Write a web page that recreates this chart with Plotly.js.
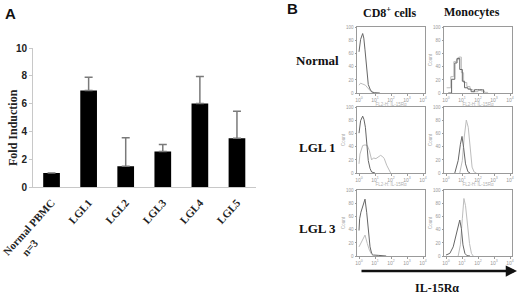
<!DOCTYPE html>
<html>
<head>
<meta charset="utf-8">
<script src="https://cdn.plot.ly/plotly-3.0.1.min.js"></script>
<style>html,body{margin:0;padding:0;background:#fff;}#chart{width:520px;height:296px;}</style>
</head>
<body>
<div id="chart"></div>
<script>
// ---- Panel A data ----
const categories = ['Normal PBMC', 'LGL1', 'LGL2', 'LGL3', 'LGL4', 'LGL5'];
const categorySubtitles = ['n=3', '', '', '', '', ''];
const foldInduction = [1.0, 6.95, 1.5, 2.55, 6.0, 3.5];
const errorPlus = [0, 0.95, 2.05, 0.5, 1.95, 1.95];
const yTicks = [0, 2, 4, 6, 8, 10];

// ---- Panel B data (x in decades: 0 = 10^0 ... 4 = 10^4; y = Count) ----
const decadeTicks = [0, 1, 2, 3, 4];
const decadeLabels = ['10<sup>0</sup>', '10<sup>1</sup>', '10<sup>2</sup>', '10<sup>3</sup>', '10<sup>4</sup>'];
const countTicks = [0, 20, 40, 60, 80, 100];

const normalCD8DarkX = [0, 0.1, 0.23, 0.3, 0.375, 0.48, 0.58, 0.69, 0.79, 0.95, 1.3];
const normalCD8DarkY = [63, 82, 91, 84, 66, 36, 13, 6, 2, 0.5, 0];
const normalCD8LightX = [0, 0.1, 0.2, 0.3, 0.4, 0.5, 0.6, 0.7, 0.8, 0.9];
const normalCD8LightY = [12, 15, 14, 13, 12, 9, 6, 3, 1, 0];

const normalMonoDarkX = [0.14, 0.35, 0.55, 0.69, 0.86, 1.02, 1.16, 1.37, 1.57, 1.7, 1.78, 1.98, 2.08, 2.28, 2.35];
const normalMonoDarkY = [0, 21, 46, 53, 36, 18, 8, 6, 2, 2, 5, 5, 5, 5, 0];
const normalMonoLightX = [0.04, 0.3, 0.49, 0.65, 0.8, 0.96, 1.1, 1.3, 1.5, 1.7, 2.0, 2.2, 2.4, 2.6];
const normalMonoLightY = [8, 25, 48, 51, 55, 31, 16, 10, 5, 2, 4, 3, 1, 0];

const lgl1CD8DarkX = [0, 0.1, 0.23, 0.31, 0.4, 0.48, 0.58, 0.69, 0.79, 1.0];
const lgl1CD8DarkY = [61, 80, 87, 82, 70, 44, 19, 7, 1.5, 0];
const lgl1CD8LightX = [0, 0.06, 0.23, 0.375, 0.52, 0.65, 0.79, 0.9, 1.06, 1.21, 1.35, 1.48, 1.58, 1.73, 1.9, 1.98];
const lgl1CD8LightY = [14, 29, 42, 43, 42, 34, 20, 23, 22, 24, 27, 25, 22, 12, 3, 0];

const lgl1MonoDarkX = [0.55, 0.76, 0.9, 1.0, 1.1, 1.22, 1.37, 1.5];
const lgl1MonoDarkY = [0, 19, 44, 56, 39, 14, 2, 0];
const lgl1MonoLightX = [0.86, 1.02, 1.14, 1.27, 1.39, 1.51, 1.63, 1.76, 1.9];
const lgl1MonoLightY = [0, 19, 55, 81, 70, 34, 9, 1.5, 0];

const lgl3CD8DarkX = [0, 0.04, 0.12, 0.27, 0.375, 0.48, 0.58, 0.69, 0.79, 0.9, 1.2, 1.6, 1.7];
const lgl3CD8DarkY = [39, 57, 67, 80, 87, 67, 37, 14, 4, 1.5, 1, 1, 0];
const lgl3CD8LightX = [0, 0.06, 0.23, 0.375, 0.52, 0.65, 0.79, 0.9];
const lgl3CD8LightY = [14, 17, 24, 32, 19, 9, 2.5, 0];

const lgl3MonoDarkX = [0, 0.24, 0.45, 0.61, 0.76, 0.86, 0.96, 1.06, 1.18, 1.31, 1.5];
const lgl3MonoDarkY = [1.5, 4, 14, 32, 48, 55, 42, 17, 4, 0.5, 0];
const lgl3MonoLightX = [0.76, 0.9, 1.02, 1.12, 1.22, 1.35, 1.47, 1.59, 1.7];
const lgl3MonoLightY = [0, 17, 57, 88, 77, 47, 19, 4, 0];

const rowLabels = ['Normal', 'LGL 1', 'LGL 3'];
const colLabels = ['CD8<sup>+</sup> cells', 'Monocytes'];

const W = 520, H = 296;
const px = v => v / W;
const py = v => 1 - v / H;

const DARK = '#666666', LIGHT = '#bdbdbd';
const serif = 'Liberation Serif, Times New Roman, serif';
const sans = 'Liberation Sans, Arial, sans-serif';
const NB = '\u00a0';

const catText = categories.map((c, i) => categorySubtitles[i]
  ? '<b>' + c + '</b><br><b>' + categorySubtitles[i] + '</b>' + NB.repeat(15)
  : '<b>' + c + '</b>');

const traces = [];
traces.push({
  type: 'bar', x: categories, y: foldInduction, width: 0.45,
  marker: {color: '#000', line: {width: 0}},
  error_y: {type: 'data', symmetric: false, array: errorPlus, arrayminus: errorPlus.map(() => 0),
            color: '#7a7a7a', thickness: 1.5, width: 4},
  xaxis: 'x', yaxis: 'y', hoverinfo: 'none'
});

const panels = [
  [normalCD8DarkX, normalCD8DarkY, normalCD8LightX, normalCD8LightY],
  [normalMonoDarkX, normalMonoDarkY, normalMonoLightX, normalMonoLightY],
  [lgl1CD8DarkX, lgl1CD8DarkY, lgl1CD8LightX, lgl1CD8LightY],
  [lgl1MonoDarkX, lgl1MonoDarkY, lgl1MonoLightX, lgl1MonoLightY],
  [lgl3CD8DarkX, lgl3CD8DarkY, lgl3CD8LightX, lgl3CD8LightY],
  [lgl3MonoDarkX, lgl3MonoDarkY, lgl3MonoLightX, lgl3MonoLightY]
];
panels.forEach((p, i) => {
  const n = i + 2;
  const shape = (i === 1) ? 'hv' : 'linear';
  traces.push({type: 'scatter', mode: 'lines', x: p[2], y: p[3], line: {color: LIGHT, width: 1, shape: shape},
               xaxis: 'x' + n, yaxis: 'y' + n, hoverinfo: 'none'});
  traces.push({type: 'scatter', mode: 'lines', x: p[0], y: p[1], line: {color: DARK, width: 1, shape: shape},
               xaxis: 'x' + n, yaxis: 'y' + n, hoverinfo: 'none'});
});

const layout = {
  width: W, height: H, margin: {l: 0, r: 0, t: 0, b: 0},
  paper_bgcolor: '#fff', plot_bgcolor: '#fff', showlegend: false,
  xaxis: {
    domain: [px(33), px(255.5)], range: [-0.5, 5.5], type: 'category',
    tickvals: categories, ticktext: catText,
    tickangle: -48, tickfont: {family: serif, size: 11, color: '#222'}, ticklabelstandoff: 4,
    showline: true, linecolor: '#c8c8c8', linewidth: 1, showgrid: false, ticks: '', zeroline: false,
    anchor: 'y', fixedrange: true
  },
  yaxis: {
    domain: [py(187), py(48)], range: [0, 10], tickvals: yTicks,
    ticktext: yTicks.map(t => '<b>' + t + '</b>'),
    tickfont: {family: sans, size: 10, color: '#222'},
    showline: true, linecolor: '#c8c8c8', linewidth: 1, showgrid: false, zeroline: false,
    ticks: 'outside', ticklen: 3, tickcolor: '#c8c8c8', anchor: 'x'
  },
  annotations: [],
  shapes: []
};

const colX = [[357, 425], [444, 512]];
const rowY = [[27, 93], [107, 173], [190, 256]];
for (let i = 0; i < 6; i++) {
  const n = i + 2;
  const r = Math.floor(i / 2), c = i % 2;
  layout['xaxis' + n] = {
    domain: [px(colX[c][0]), px(colX[c][1])], range: [-0.125, 4.125],
    tickvals: decadeTicks, ticktext: decadeLabels, tickfont: {family: sans, size: 5, color: '#999'},
    showline: true, mirror: true, linecolor: '#9a9a9a', linewidth: 1, showgrid: false, zeroline: false,
    ticks: 'outside', ticklen: 1.5, tickcolor: '#9a9a9a', anchor: 'y' + n,
    title: r < 2 ? {text: 'FL2-H: IL-15R\u03b1', font: {family: sans, size: 4.5, color: '#b0b0b0'}, standoff: 0} : {text: ''}
  };
  layout['yaxis' + n] = {
    domain: [py(rowY[r][1]), py(rowY[r][0])], range: [0, 101],
    tickvals: countTicks, tickfont: {family: sans, size: 4.5, color: '#999'},
    showline: true, mirror: true, linecolor: '#9a9a9a', linewidth: 1, showgrid: false, zeroline: false,
    ticks: 'outside', ticklen: 1.5, tickcolor: '#9a9a9a', anchor: 'x' + n,
    title: (c === 1 || r > 0) ? {text: 'Count', font: {family: sans, size: 4.5, color: '#aaa'}, standoff: 0} : {text: ''}
  };
}

const ann = layout.annotations;
const A = (x, y, text, font, extra) => Object.assign({xref: 'paper', yref: 'paper', x: px(x), y: py(y), text: text,
  showarrow: false, xanchor: 'center', yanchor: 'middle', font: font}, extra || {});
ann.push(A(13, 128, '<b>Fold Induction</b>', {family: serif, size: 12, color: '#222'}, {textangle: -90}));
ann.push(A(10, 14, '<b>A</b>', {family: sans, size: 15, color: '#111'}));
ann.push(A(292, 9, '<b>B</b>', {family: sans, size: 15, color: '#111'}));
ann.push(A(389, 12, '<b>' + colLabels[0] + '</b>', {family: serif, size: 12, color: '#111'}));
ann.push(A(472, 12, '<b>' + colLabels[1] + '</b>', {family: serif, size: 12, color: '#111'}));
const rowLabelY = [60, 147, 228];
rowLabels.forEach((t, i) => ann.push(A(317, rowLabelY[i], '<b>' + t + '</b>', {family: serif, size: 13, color: '#111'})));
ann.push(A(437, 288, '<b>IL-15R\u03b1</b>', {family: serif, size: 12, color: '#111'}));
ann.push({xref: 'paper', yref: 'paper', x: px(517), y: py(271), ax: -157, ay: 0, text: '', showarrow: true,
          arrowhead: 2, arrowsize: 0.9, arrowwidth: 2.5, arrowcolor: '#111'});

Plotly.newPlot('chart', traces, layout, {staticPlot: true, displayModeBar: false});
</script>
</body>
</html>
